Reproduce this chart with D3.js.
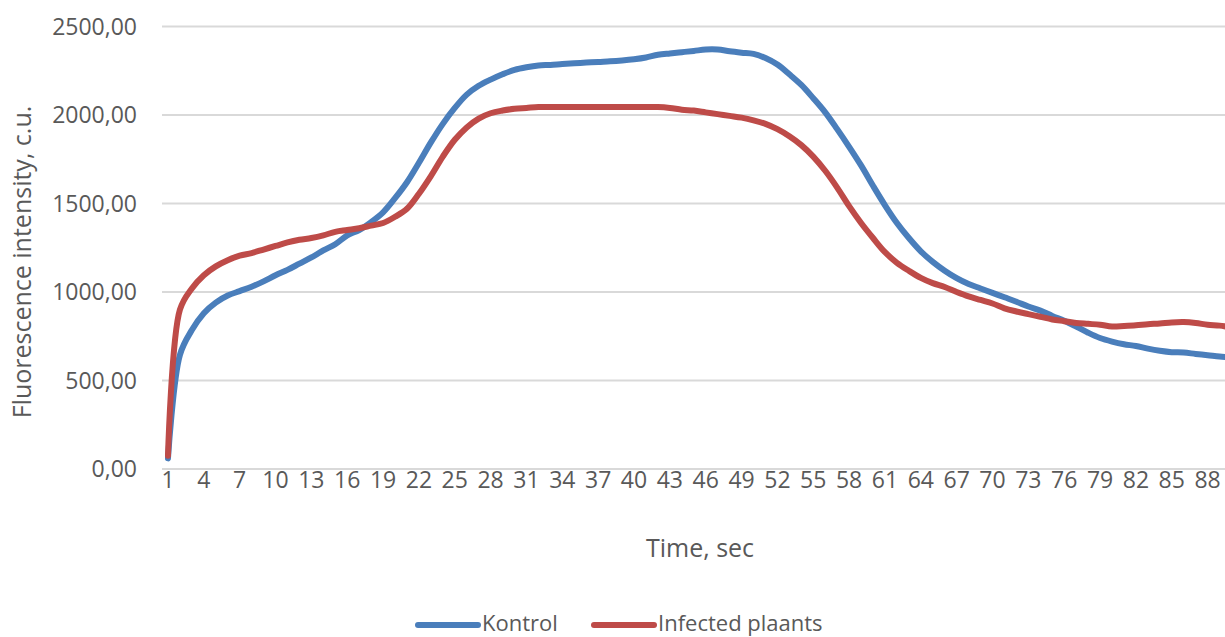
<!DOCTYPE html>
<html><head><meta charset="utf-8">
<script src="https://cdn.jsdelivr.net/npm/d3@7"></script>
<style>
html,body{margin:0;padding:0;background:#fff;overflow:hidden;}
svg{display:block;font-family:"Open Sans",sans-serif;}
</style></head>
<body>
<svg id="chart" width="1225" height="637"></svg>
<script>
const categories = d3.range(1, 91);
const kontrol = [60,645,785,880,940,980,1005,1030,1060,1095,1125,1160,1195,1235,1270,1320,1350,1395,1450,1530,
 1620,1730,1845,1950,2040,2115,2165,2200,2230,2255,2270,2280,2283,2288,2292,2296,2300,2303,2308,2315,
 2325,2340,2348,2355,2362,2370,2370,2360,2352,2345,2322,2285,2230,2170,2095,2015,1920,1820,1715,1600,
 1490,1390,1305,1230,1170,1120,1078,1045,1020,995,970,945,918,895,865,838,805,770,740,720,
 705,695,680,668,660,658,650,643,635,630];
const infected = [75,900,1020,1095,1145,1180,1205,1220,1240,1260,1280,1295,1305,1320,1340,1350,1360,1375,1390,1425,
 1470,1555,1655,1765,1860,1930,1980,2010,2025,2035,2040,2045,2045,2045,2045,2045,2045,2045,2045,2045,
 2045,2045,2040,2030,2025,2015,2005,1995,1985,1970,1950,1920,1880,1830,1765,1685,1590,1485,1390,1305,
 1225,1165,1120,1080,1050,1028,1000,975,955,935,908,890,875,860,845,835,825,820,815,805,
 808,812,818,822,828,830,825,815,810,800];
const yTicks = [0,500,1000,1500,2000,2500];
const xTickLabels = categories.filter((d,i) => i % 3 === 0);
const seriesNames = ["Kontrol","Infected plaants"];
const colors = ["#4a7ebb","#be4b48"];

const svg = d3.select("#chart");
const x = d3.scalePoint().domain(categories).range([162, 1237.5]).padding(0.5);
const y = d3.scaleLinear().domain([0,2500]).range([469, 26.5]);

// gridlines
svg.append("g").selectAll("line").data(yTicks).join("line")
  .attr("x1",162).attr("x2",1240)
  .attr("y1",d=>y(d)).attr("y2",d=>y(d))
  .attr("stroke","#d9d9d9").attr("stroke-width",2);

// y tick labels
const fmt = d => d3.format(".2f")(d).replace(".", ",");
svg.append("g").selectAll("text").data(yTicks).join("text")
  .attr("x",137).attr("y",d=>y(d)).attr("dy","0.35em")
  .attr("text-anchor","end").attr("fill","#595959").attr("font-size",23)
  .text(fmt);

// x tick labels
svg.append("g").selectAll("text").data(xTickLabels).join("text")
  .attr("x",d=>x(d)).attr("y",480).attr("dy","0.35em")
  .attr("text-anchor","middle").attr("fill","#595959").attr("font-size",23)
  .text(d=>d);

// axis titles
svg.append("text").attr("x",700).attr("y",548).attr("dy","0.35em")
  .attr("text-anchor","middle").attr("fill","#595959").attr("font-size",25)
  .text("Time, sec");
svg.append("text").attr("transform","translate(22,262) rotate(-90)").attr("dy","0.35em")
  .attr("text-anchor","middle").attr("fill","#595959").attr("font-size",25)
  .text("Fluorescence intensity, c.u.");

// lines
const line = d3.line().x((d,i)=>x(categories[i])).y(d=>y(d)).curve(d3.curveCatmullRom.alpha(0.5));
[kontrol, infected].forEach((s,k)=>{
  svg.append("path").datum(s).attr("d",line)
    .attr("fill","none").attr("stroke",colors[k]).attr("stroke-width",6)
    .attr("stroke-linejoin","round").attr("stroke-linecap","round");
});

// legend
const legX = [418, 594];
seriesNames.forEach((n,k)=>{
  const g = svg.append("g");
  g.append("line").attr("x1",legX[k]).attr("x2",legX[k]+60).attr("y1",625).attr("y2",625)
    .attr("stroke",colors[k]).attr("stroke-width",6).attr("stroke-linecap","round");
  g.append("text").attr("x",legX[k]+64).attr("y",623).attr("dy","0.35em")
    .attr("fill","#595959").attr("font-size",22).text(n);
});
</script>
</body></html>
